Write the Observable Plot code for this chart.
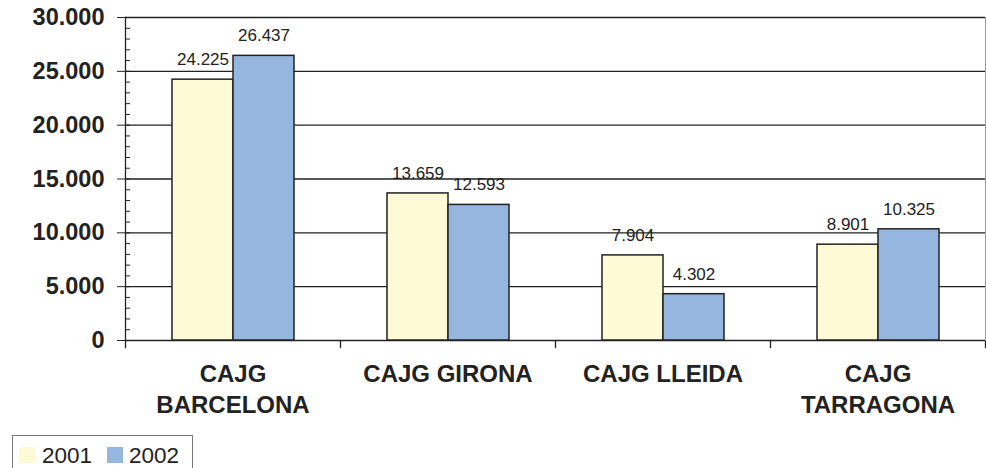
<!DOCTYPE html>
<html>
<head>
<meta charset="utf-8">
<script src="https://cdn.jsdelivr.net/npm/d3@7"></script>
<script src="https://cdn.jsdelivr.net/npm/@observablehq/plot@0.6"></script>
<style>
  body { margin: 0; background: #fff; }
  #wrap { position: relative; width: 986px; height: 468px; overflow: hidden; font-family: "Liberation Sans", Arial, sans-serif; }
  #legend { position: absolute; left: 12px; top: 435px; width: 181px; height: 44px; border: 1px solid #777; box-sizing: border-box; }
  .item { position: absolute; top: 9px; font-size: 22.5px; line-height: 22px; color: #222; }
  .sw { position: absolute; width: 16px; height: 16px; top: 11px; }
</style>
</head>
<body>
<div id="wrap">
  <div id="chart"></div>
  <div id="legend"></div>
</div>
<script>
const categories = ["CAJG BARCELONA", "CAJG GIRONA", "CAJG LLEIDA", "CAJG TARRAGONA"];
const categoryLabels = ["CAJG\nBARCELONA", "CAJG GIRONA", "CAJG LLEIDA", "CAJG\nTARRAGONA"];
const years = ["2001", "2002"];
const values2001 = [24225, 13659, 7904, 8901];
const values2002 = [26437, 12593, 4302, 10325];
const yTicks = [0, 5000, 10000, 15000, 20000, 25000, 30000];
const yMinorTicks = d3.range(0, 30001, 1000);
const colors = ["#FFFAD6", "#95B6DF"];

const locale = d3.formatLocale({decimal: ",", thousands: ".", grouping: [3], currency: ["", " €"]});
const fmt = locale.format(",d");

const data = categories.flatMap((c, i) => [
  {cat: c, year: years[0], value: values2001[i]},
  {cat: c, year: years[1], value: values2002[i]}
]);

const W = 986, H = 432, MT = 17, MB = 92;

const chart = Plot.plot({
  width: W, height: H,
  marginLeft: 125, marginRight: 1, marginTop: MT, marginBottom: MB,
  style: {fontFamily: "'Liberation Sans', Arial, sans-serif", background: "white", color: "#222"},
  fx: {domain: categories, padding: 0, label: null},
  x: {domain: years, paddingInner: 0, paddingOuter: 0.75, axis: null},
  y: {domain: [0, 30000], label: null},
  color: {domain: years, range: colors},
  marks: [
    Plot.gridY(yTicks, {stroke: "#222", strokeOpacity: 1, strokeWidth: 1.3}),
    Plot.barY(data, {fx: "cat", x: "year", y: "value", fill: "year", stroke: "#222", strokeWidth: 1.5}),
    Plot.text(data, {fx: "cat", x: "year", y: "value", text: d => fmt(d.value), dy: -20, lineAnchor: "middle", fontSize: 17, fill: "#222"}),
    Plot.axisY(yTicks, {tickSize: 8, tickPadding: 13, tickFormat: fmt, fontSize: 23.5, fontWeight: "bold", label: null, stroke: "#222"}),
    Plot.axisY(yMinorTicks, {tickSize: 5, dx: 5, tickFormat: () => "", label: null, stroke: "#222"}),
    Plot.frame({anchor: "left", facetAnchor: "left", insetBottom: -7, stroke: "#222", strokeWidth: 1.3}),
    Plot.frame({anchor: "right", insetTop: H - MT - MB, insetBottom: -7, stroke: "#222", strokeWidth: 1.3}),
    Plot.frame({anchor: "right", facetAnchor: "right", stroke: "#999"}),
    Plot.axisFx({anchor: "bottom", tickSize: 0, tickPadding: 20, label: null,
      tickFormat: d => categoryLabels[categories.indexOf(d)],
      fontSize: 24, fontWeight: "bold", lineHeight: 1.29, fill: "#222"})
  ]
});
document.getElementById("chart").appendChild(chart);

const legend = document.getElementById("legend");
const swX = [6, 94], txX = [29, 116];
years.forEach((y, i) => {
  const sw = document.createElement("div");
  sw.className = "sw";
  sw.style.left = swX[i] + "px";
  sw.style.background = colors[i];
  legend.appendChild(sw);
  const t = document.createElement("div");
  t.className = "item";
  t.style.left = txX[i] + "px";
  t.textContent = y;
  legend.appendChild(t);
});
</script>
</body>
</html>
